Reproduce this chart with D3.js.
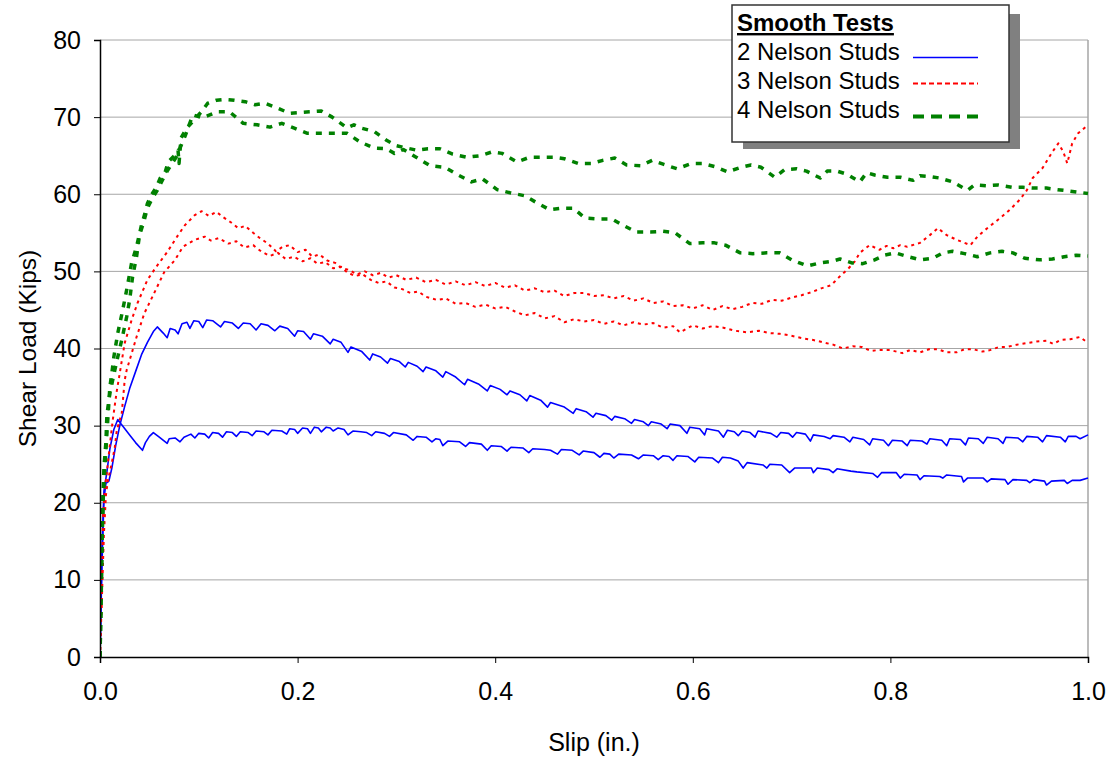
<!DOCTYPE html>
<html>
<head>
<meta charset="utf-8">
<script src="https://cdn.jsdelivr.net/npm/d3@7"></script>
<style>
  html, body { margin: 0; padding: 0; background: #fff; }
  svg { display: block; font-family: "Liberation Sans", Arial, sans-serif; }
</style>
</head>
<body>
<svg id="chart" width="1112" height="757"></svg>
<script>
// Load–slip curves, smooth push-out tests (slip in inches, load in kips)
const xTicks = [0, 0.2, 0.4, 0.6, 0.8, 1.0];
const yTicks = [0, 10, 20, 30, 40, 50, 60, 70, 80];
const legendTitle = "Smooth Tests";
const seriesNames = ["2 Nelson Studs", "3 Nelson Studs", "4 Nelson Studs"];

// 2 studs, test A
const studs2a = [[0,0],[0.002,12],[0.004,20.5],[0.006,22.5],[0.009,22.8],[0.012,24.5],[0.016,27.5],[0.02,30],[0.025,32.5],[0.03,34.8],[0.036,37],[0.042,39.2],[0.048,40.8],[0.054,42.2],[0.058,42.8],[0.064,42.0],[0.068,41.4],[0.071,42.6],[0.076,42.4],[0.079,41.9],[0.083,43.2],[0.088,43.4],[0.091,42.6],[0.095,43.6],[0.1,43.5],[0.104,42.7],[0.108,43.7],[0.114,43.6],[0.122,42.8],[0.126,43.5],[0.134,43.3],[0.14,42.6],[0.145,43.3],[0.152,43.2],[0.158,42.4],[0.163,43.2],[0.17,43.0],[0.177,42.3],[0.182,42.9],[0.19,42.6],[0.197,41.6],[0.2,42.3],[0.206,42.2],[0.213,41.2],[0.216,41.9],[0.225,41.6],[0.233,40.6],[0.236,41.2],[0.244,40.8],[0.251,39.5],[0.254,40.2],[0.265,39.6],[0.273,38.5],[0.276,39.3],[0.284,38.9],[0.291,38.1],[0.294,38.7],[0.303,38.3],[0.309,37.6],[0.312,38.2],[0.321,37.7],[0.327,37.0],[0.33,37.6],[0.34,37.1],[0.347,36.3],[0.35,37.0],[0.36,36.3],[0.369,35.3],[0.372,36.0],[0.383,35.4],[0.392,34.5],[0.395,35.2],[0.405,34.7],[0.412,34.0],[0.415,34.5],[0.425,34.0],[0.432,33.2],[0.435,33.9],[0.446,33.3],[0.453,32.4],[0.456,33.0],[0.47,32.4],[0.479,31.6],[0.482,32.2],[0.492,31.8],[0.499,31.1],[0.502,31.6],[0.512,31.3],[0.518,30.7],[0.521,31.2],[0.531,30.9],[0.538,30.3],[0.541,30.8],[0.55,30.5],[0.555,30.0],[0.558,30.5],[0.568,30.2],[0.574,29.6],[0.577,30.2],[0.587,30.0],[0.594,29.0],[0.597,29.8],[0.607,29.6],[0.612,28.8],[0.614,29.6],[0.626,29.3],[0.631,28.5],[0.635,29.4],[0.642,29.2],[0.646,28.7],[0.65,29.3],[0.658,29.1],[0.663,28.5],[0.666,29.3],[0.679,29.0],[0.685,28.5],[0.689,29.1],[0.697,29.0],[0.701,28.5],[0.705,29.1],[0.714,28.9],[0.719,28.0],[0.722,28.8],[0.733,28.6],[0.739,28.3],[0.742,28.7],[0.753,28.5],[0.759,27.9],[0.762,28.5],[0.773,28.2],[0.779,27.5],[0.782,28.3],[0.793,28.1],[0.798,27.4],[0.802,28.1],[0.812,28.0],[0.817,27.4],[0.82,28.1],[0.832,28.0],[0.837,27.6],[0.84,28.3],[0.852,28.1],[0.857,27.4],[0.86,28.3],[0.871,28.2],[0.876,27.5],[0.879,28.4],[0.889,28.3],[0.894,27.7],[0.898,28.5],[0.909,28.3],[0.914,27.7],[0.917,28.5],[0.929,28.4],[0.934,27.9],[0.938,28.6],[0.949,28.5],[0.954,27.9],[0.958,28.7],[0.972,28.5],[0.977,27.9],[0.98,28.6],[0.988,28.6],[0.992,28.3],[1.0,28.8]];

// 2 studs, test B
const studs2b = [[0,0],[0.002,14],[0.004,21.5],[0.007,24],[0.01,27],[0.014,29.5],[0.018,30.8],[0.022,30.1],[0.03,28.8],[0.036,27.8],[0.043,26.8],[0.046,27.8],[0.05,28.6],[0.054,29.1],[0.06,28.5],[0.068,27.7],[0.07,28.3],[0.076,28.4],[0.081,27.9],[0.085,28.5],[0.092,28.9],[0.096,28.4],[0.1,29.0],[0.106,28.9],[0.11,28.4],[0.114,29.1],[0.12,29.0],[0.124,28.5],[0.128,29.2],[0.134,29.1],[0.138,28.6],[0.142,29.2],[0.15,29.1],[0.154,28.7],[0.158,29.3],[0.166,29.2],[0.17,28.8],[0.174,29.4],[0.184,29.3],[0.189,28.9],[0.192,29.6],[0.197,29.5],[0.2,29.0],[0.205,29.7],[0.21,29.6],[0.213,29.0],[0.217,29.8],[0.221,29.7],[0.224,29.2],[0.229,29.8],[0.233,29.7],[0.236,29.3],[0.241,29.7],[0.247,29.5],[0.251,28.8],[0.256,29.3],[0.264,29.2],[0.27,29.1],[0.275,28.7],[0.279,29.2],[0.288,29.0],[0.293,28.6],[0.297,29.1],[0.31,28.8],[0.317,28.1],[0.321,28.6],[0.33,28.5],[0.336,27.9],[0.34,28.3],[0.344,28.2],[0.347,27.4],[0.352,28.0],[0.364,27.9],[0.37,27.3],[0.374,27.8],[0.386,27.6],[0.392,26.8],[0.396,27.4],[0.406,27.3],[0.412,26.7],[0.416,27.2],[0.428,27.1],[0.434,26.5],[0.438,27.0],[0.45,26.9],[0.456,26.8],[0.463,26.3],[0.467,26.9],[0.478,26.8],[0.485,26.2],[0.489,26.7],[0.5,26.5],[0.506,25.9],[0.51,26.4],[0.516,26.3],[0.52,25.8],[0.525,26.3],[0.538,26.2],[0.545,25.7],[0.55,26.2],[0.56,26.1],[0.565,25.6],[0.57,26.1],[0.576,26.0],[0.58,25.5],[0.584,26.1],[0.595,26.0],[0.602,25.3],[0.606,25.9],[0.62,25.8],[0.626,25.2],[0.63,25.9],[0.638,25.8],[0.646,25.4],[0.651,24.5],[0.655,25.2],[0.671,24.9],[0.675,24.5],[0.678,25.0],[0.69,24.9],[0.698,23.9],[0.703,24.5],[0.72,24.5],[0.722,23.9],[0.726,24.5],[0.738,24.3],[0.742,23.9],[0.746,24.4],[0.76,24.1],[0.766,24.0],[0.782,23.8],[0.787,23.3],[0.791,23.9],[0.806,23.9],[0.81,23.2],[0.814,23.7],[0.827,23.6],[0.83,23.0],[0.834,23.5],[0.85,23.4],[0.853,23.2],[0.857,23.6],[0.872,23.4],[0.874,22.7],[0.878,23.2],[0.894,23.2],[0.898,22.7],[0.902,23.1],[0.916,23.0],[0.919,22.4],[0.924,23.0],[0.938,22.9],[0.941,22.6],[0.945,23.0],[0.956,22.8],[0.958,22.3],[0.963,22.8],[0.976,22.9],[0.979,22.5],[0.984,22.9],[0.992,22.9],[1.0,23.2]];

// 3 studs, test A
const studs3a = [[0,0],[0.002,10],[0.003,18],[0.005,22],[0.007,24],[0.01,27.5],[0.013,30.8],[0.017,34.5],[0.02,36.8],[0.025,40.7],[0.032,43.7],[0.038,45.9],[0.048,48.9],[0.057,50.6],[0.068,52.5],[0.078,54.5],[0.086,56.0],[0.096,57.3],[0.103,57.8],[0.11,57.2],[0.118,57.7],[0.125,57.0],[0.132,56.4],[0.14,55.6],[0.147,55.9],[0.155,55.0],[0.162,54.3],[0.17,53.6],[0.178,52.6],[0.185,53.2],[0.192,53.4],[0.2,52.5],[0.208,52.8],[0.215,51.9],[0.222,52.2],[0.23,51.4],[0.238,51.1],[0.245,50.4],[0.252,50.2],[0.26,49.6],[0.268,50.0],[0.276,49.5],[0.284,49.8],[0.292,49.2],[0.3,49.5],[0.31,48.9],[0.32,49.2],[0.33,48.6],[0.34,48.9],[0.35,48.3],[0.36,48.7],[0.37,48.2],[0.38,48.6],[0.39,48.1],[0.4,48.5],[0.41,47.9],[0.42,48.2],[0.43,47.5],[0.44,47.8],[0.45,47.3],[0.46,47.5],[0.47,46.8],[0.48,47.2],[0.49,47.2],[0.5,46.8],[0.51,46.9],[0.52,46.5],[0.53,46.8],[0.54,46.2],[0.55,46.5],[0.56,45.9],[0.57,46.1],[0.58,45.5],[0.59,45.6],[0.6,45.2],[0.61,45.6],[0.62,45.0],[0.63,45.5],[0.64,45.1],[0.65,45.4],[0.66,45.9],[0.67,45.8],[0.68,46.3],[0.69,46.2],[0.7,46.6],[0.71,46.9],[0.72,47.3],[0.73,47.8],[0.74,48.2],[0.75,49.5],[0.757,50.3],[0.764,51.3],[0.769,52.4],[0.779,53.4],[0.789,52.8],[0.796,53.3],[0.803,53.0],[0.81,53.4],[0.817,53.2],[0.83,53.7],[0.84,54.7],[0.848,55.6],[0.857,54.7],[0.867,54.1],[0.881,53.4],[0.888,54.5],[0.898,55.6],[0.911,56.9],[0.921,58.0],[0.931,59.3],[0.938,60.5],[0.944,62.1],[0.954,63.4],[0.964,65.5],[0.97,66.6],[0.975,65.5],[0.979,64.0],[0.984,66.6],[0.99,67.9],[1.0,69.0]];

// 3 studs, test B
const studs3b = [[0,0],[0.002,8],[0.004,16],[0.006,21],[0.008,22.9],[0.012,25.2],[0.015,27.2],[0.017,29.4],[0.022,31.6],[0.025,35.9],[0.027,37.2],[0.037,41.5],[0.045,44.6],[0.053,46.7],[0.065,49.9],[0.076,51.5],[0.084,53.2],[0.096,54.1],[0.106,54.5],[0.112,54.0],[0.12,54.3],[0.13,53.6],[0.138,53.9],[0.146,53.1],[0.155,53.4],[0.163,52.6],[0.172,52.0],[0.18,52.4],[0.188,51.6],[0.196,51.9],[0.205,51.3],[0.213,51.7],[0.22,51.0],[0.228,51.2],[0.236,50.4],[0.244,50.6],[0.25,49.9],[0.258,49.4],[0.266,49.6],[0.274,48.9],[0.282,48.5],[0.29,48.7],[0.298,47.9],[0.306,47.7],[0.314,47.2],[0.322,47.4],[0.33,46.7],[0.341,46.3],[0.35,46.5],[0.36,45.8],[0.37,45.9],[0.38,45.4],[0.39,45.7],[0.4,45.2],[0.41,45.4],[0.42,44.8],[0.43,44.3],[0.44,44.6],[0.45,43.9],[0.46,44.2],[0.47,43.4],[0.48,43.8],[0.49,43.5],[0.5,43.7],[0.51,43.2],[0.52,43.5],[0.53,43.0],[0.54,43.4],[0.55,43.1],[0.56,43.3],[0.57,42.7],[0.58,42.9],[0.587,42.1],[0.6,43.0],[0.61,42.6],[0.62,42.9],[0.631,42.7],[0.643,42.3],[0.655,42.1],[0.667,42.3],[0.678,42.0],[0.688,41.9],[0.698,41.7],[0.712,41.3],[0.722,41.1],[0.732,40.8],[0.742,40.5],[0.752,40.0],[0.762,40.3],[0.771,40.2],[0.78,39.7],[0.789,39.8],[0.8,39.8],[0.812,39.4],[0.82,39.8],[0.83,39.5],[0.839,39.9],[0.848,39.9],[0.857,39.5],[0.867,39.5],[0.875,39.9],[0.884,39.9],[0.893,39.6],[0.901,39.8],[0.91,40.2],[0.918,40.2],[0.928,40.5],[0.938,40.7],[0.948,40.9],[0.958,41.0],[0.965,40.6],[0.972,41.1],[0.982,41.2],[0.992,41.5],[1.0,40.7]];

// 4 studs, test A
const studs4a = [[0,0],[0.001,6],[0.002,14],[0.003,20],[0.005,24.5],[0.007,29],[0.009,33],[0.01,35],[0.012,36.8],[0.014,38.9],[0.018,42],[0.023,45],[0.027,47.6],[0.032,51.1],[0.037,53.2],[0.042,56],[0.045,57.3],[0.048,58.8],[0.052,59.9],[0.057,60.9],[0.061,62.1],[0.066,62.9],[0.069,64.2],[0.076,65.1],[0.079,65.7],[0.08,64.0],[0.082,67.3],[0.088,68.6],[0.095,69.6],[0.102,70.6],[0.109,71.8],[0.118,72.2],[0.126,72.3],[0.136,72.2],[0.147,72.0],[0.157,71.6],[0.167,71.8],[0.179,71.2],[0.192,70.5],[0.202,70.6],[0.212,70.7],[0.224,70.8],[0.235,70.0],[0.25,68.6],[0.257,69.0],[0.264,68.6],[0.278,68.1],[0.29,67.0],[0.3,66.3],[0.31,66.0],[0.321,65.7],[0.332,65.9],[0.344,65.9],[0.357,65.2],[0.371,64.8],[0.385,65.0],[0.397,65.5],[0.407,65.3],[0.422,64.2],[0.435,64.8],[0.448,64.8],[0.46,64.8],[0.47,64.6],[0.484,64.0],[0.498,64.0],[0.509,64.4],[0.521,64.7],[0.533,63.8],[0.547,63.7],[0.559,64.4],[0.57,63.9],[0.584,63.3],[0.599,64.0],[0.61,64.0],[0.622,63.6],[0.635,62.9],[0.649,63.5],[0.659,63.8],[0.669,63.5],[0.683,62.2],[0.693,63.2],[0.705,63.3],[0.715,63.0],[0.729,62.1],[0.736,63.0],[0.746,63.0],[0.756,62.6],[0.769,61.6],[0.776,62.8],[0.784,62.5],[0.797,62.2],[0.81,62.2],[0.823,61.8],[0.83,62.4],[0.84,62.3],[0.85,62.1],[0.863,61.6],[0.878,60.5],[0.885,61.2],[0.898,61.1],[0.909,61.2],[0.923,60.9],[0.934,60.9],[0.946,60.8],[0.958,60.8],[0.969,60.6],[0.982,60.4],[0.994,60.2],[1.0,60.1]];

// 4 studs, test B
const studs4b = [[0,0],[0.001,8],[0.002,15],[0.003,20.7],[0.004,24.6],[0.006,27.9],[0.007,31.4],[0.01,34.2],[0.015,37.2],[0.018,38.9],[0.022,41.1],[0.027,44.1],[0.03,46.3],[0.033,49.3],[0.037,51.9],[0.04,54.7],[0.044,56.3],[0.048,58.2],[0.053,59.5],[0.058,60.5],[0.063,61.8],[0.068,63.0],[0.073,64.0],[0.077,64.8],[0.081,66.0],[0.086,67.5],[0.094,70.3],[0.104,69.9],[0.119,70.7],[0.131,70.7],[0.145,69.2],[0.159,69.0],[0.172,68.7],[0.184,69.2],[0.196,68.6],[0.21,67.9],[0.223,67.9],[0.236,67.9],[0.25,67.9],[0.263,66.8],[0.277,66.0],[0.29,65.9],[0.298,65.3],[0.307,65.8],[0.32,64.8],[0.334,63.7],[0.349,63.5],[0.361,62.6],[0.376,61.6],[0.387,62.0],[0.402,60.6],[0.415,60.2],[0.43,59.8],[0.442,58.9],[0.455,58.0],[0.468,58.2],[0.479,58.2],[0.491,56.9],[0.504,56.8],[0.518,56.8],[0.529,56.0],[0.543,55.1],[0.557,55.1],[0.57,55.2],[0.582,55.0],[0.597,53.6],[0.61,53.7],[0.622,53.7],[0.633,53.4],[0.648,52.4],[0.661,52.3],[0.675,52.4],[0.688,52.4],[0.7,51.5],[0.716,50.7],[0.729,51.1],[0.741,51.3],[0.749,51.6],[0.761,51.1],[0.772,51.0],[0.784,51.5],[0.794,52.1],[0.805,52.4],[0.818,51.9],[0.83,51.5],[0.843,51.7],[0.853,52.4],[0.863,52.6],[0.875,52.3],[0.888,51.9],[0.901,52.4],[0.913,52.6],[0.924,52.4],[0.936,51.7],[0.951,51.5],[0.964,51.6],[0.976,51.9],[0.988,52.1],[1.0,52.0]];

const series = [
  { name: seriesNames[0], tests: [studs2a, studs2b], color: "#0000ff", width: 1.6, dash: null,  legendDash: null,   legendWidth: 1.5 },
  { name: seriesNames[1], tests: [studs3a, studs3b], color: "#ff0000", width: 2,   dash: "3,4", legendDash: "5,3",  legendWidth: 2 },
  { name: seriesNames[2], tests: [studs4a, studs4b], color: "#008000", width: 3.5, dash: "6,7", legendDash: "11,7", legendWidth: 4 }
];

(function draw() {
  const svg = d3.select("#chart");
  const plotLeft = 100, plotRight = 1088, plotTop = 40, plotBottom = 657;

  const x = d3.scaleLinear().domain([0, 1]).range([plotLeft, plotRight]);
  const y = d3.scaleLinear().domain([0, 80]).range([plotBottom, plotTop]);

  // horizontal gridlines
  svg.append("g")
    .selectAll("line")
    .data(yTicks.filter(d => d > 0))
    .join("line")
    .attr("x1", plotLeft).attr("x2", plotRight)
    .attr("y1", d => y(d)).attr("y2", d => y(d))
    .attr("stroke", "#a6a6a6").attr("stroke-width", 1);

  // right edge of the plot area
  svg.append("line")
    .attr("x1", plotRight).attr("x2", plotRight).attr("y1", plotTop).attr("y2", plotBottom)
    .attr("stroke", "#a6a6a6").attr("stroke-width", 1.5);

  // curves
  svg.append("clipPath").attr("id", "plotClip")
    .append("rect").attr("x", plotLeft).attr("y", plotTop - 5)
    .attr("width", plotRight - plotLeft + 2).attr("height", plotBottom - plotTop + 6);

  const line = d3.line().x(d => x(d[0])).y(d => y(d[1])).curve(d3.curveLinear);
  const curves = svg.append("g").attr("clip-path", "url(#plotClip)");
  series.forEach(s => {
    s.tests.forEach(t => {
      curves.append("path")
        .attr("d", line(t))
        .attr("fill", "none")
        .attr("stroke", s.color)
        .attr("stroke-width", s.width)
        .attr("stroke-dasharray", s.dash)
        .attr("stroke-linejoin", "round");
    });
  });

  // axes
  const fontSize = 25;
  const yAxis = d3.axisLeft(y).tickValues(yTicks).tickSize(6).tickPadding(13).tickFormat(d3.format("d"));
  const gy = svg.append("g").attr("transform", `translate(${plotLeft},0)`).call(yAxis);
  const xAxis = d3.axisBottom(x).tickValues(xTicks).tickSize(6).tickPadding(19).tickFormat(d3.format(".1f"));
  const gx = svg.append("g").attr("transform", `translate(0,${plotBottom})`).call(xAxis);
  [gx, gy].forEach(g => {
    g.attr("font-size", fontSize).attr("font-family", "'Liberation Sans', Arial, sans-serif");
    g.select(".domain").attr("stroke", "#000").attr("stroke-width", 1.5);
    g.selectAll(".tick line").attr("stroke", "#000").attr("stroke-width", 1);
    g.selectAll(".tick text").attr("fill", "#000");
  });

  // axis titles
  svg.append("text")
    .attr("transform", `translate(36,${(plotTop + plotBottom) / 2}) rotate(-90)`)
    .attr("text-anchor", "middle").attr("font-size", 24.5).text("Shear Load (Kips)");
  svg.append("text")
    .attr("x", (plotLeft + plotRight) / 2).attr("y", 751)
    .attr("text-anchor", "middle").attr("font-size", fontSize).text("Slip (in.)");

  // legend
  const legendFont = 24;
  const lg = svg.append("g");
  lg.append("rect").attr("x", 743).attr("y", 14).attr("width", 277).attr("height", 135).attr("fill", "#808080");
  lg.append("rect").attr("x", 732).attr("y", 5).attr("width", 277).attr("height", 137)
    .attr("fill", "#fff").attr("stroke", "#333").attr("stroke-width", 1.5);
  lg.append("text").attr("x", 737).attr("y", 31).attr("font-size", legendFont).attr("font-weight", "bold")
    .attr("text-decoration", "underline").text(legendTitle);
  const textBase = [60, 89, 118];
  const lineY = [57.5, 83.5, 116.5];
  series.forEach((s, i) => {
    lg.append("text").attr("x", 737).attr("y", textBase[i]).attr("font-size", legendFont).text(s.name);
    lg.append("line").attr("x1", 913).attr("x2", 978).attr("y1", lineY[i]).attr("y2", lineY[i])
      .attr("stroke", s.color).attr("stroke-width", s.legendWidth)
      .attr("stroke-dasharray", s.legendDash);
  });
})();
</script>
</body>
</html>
